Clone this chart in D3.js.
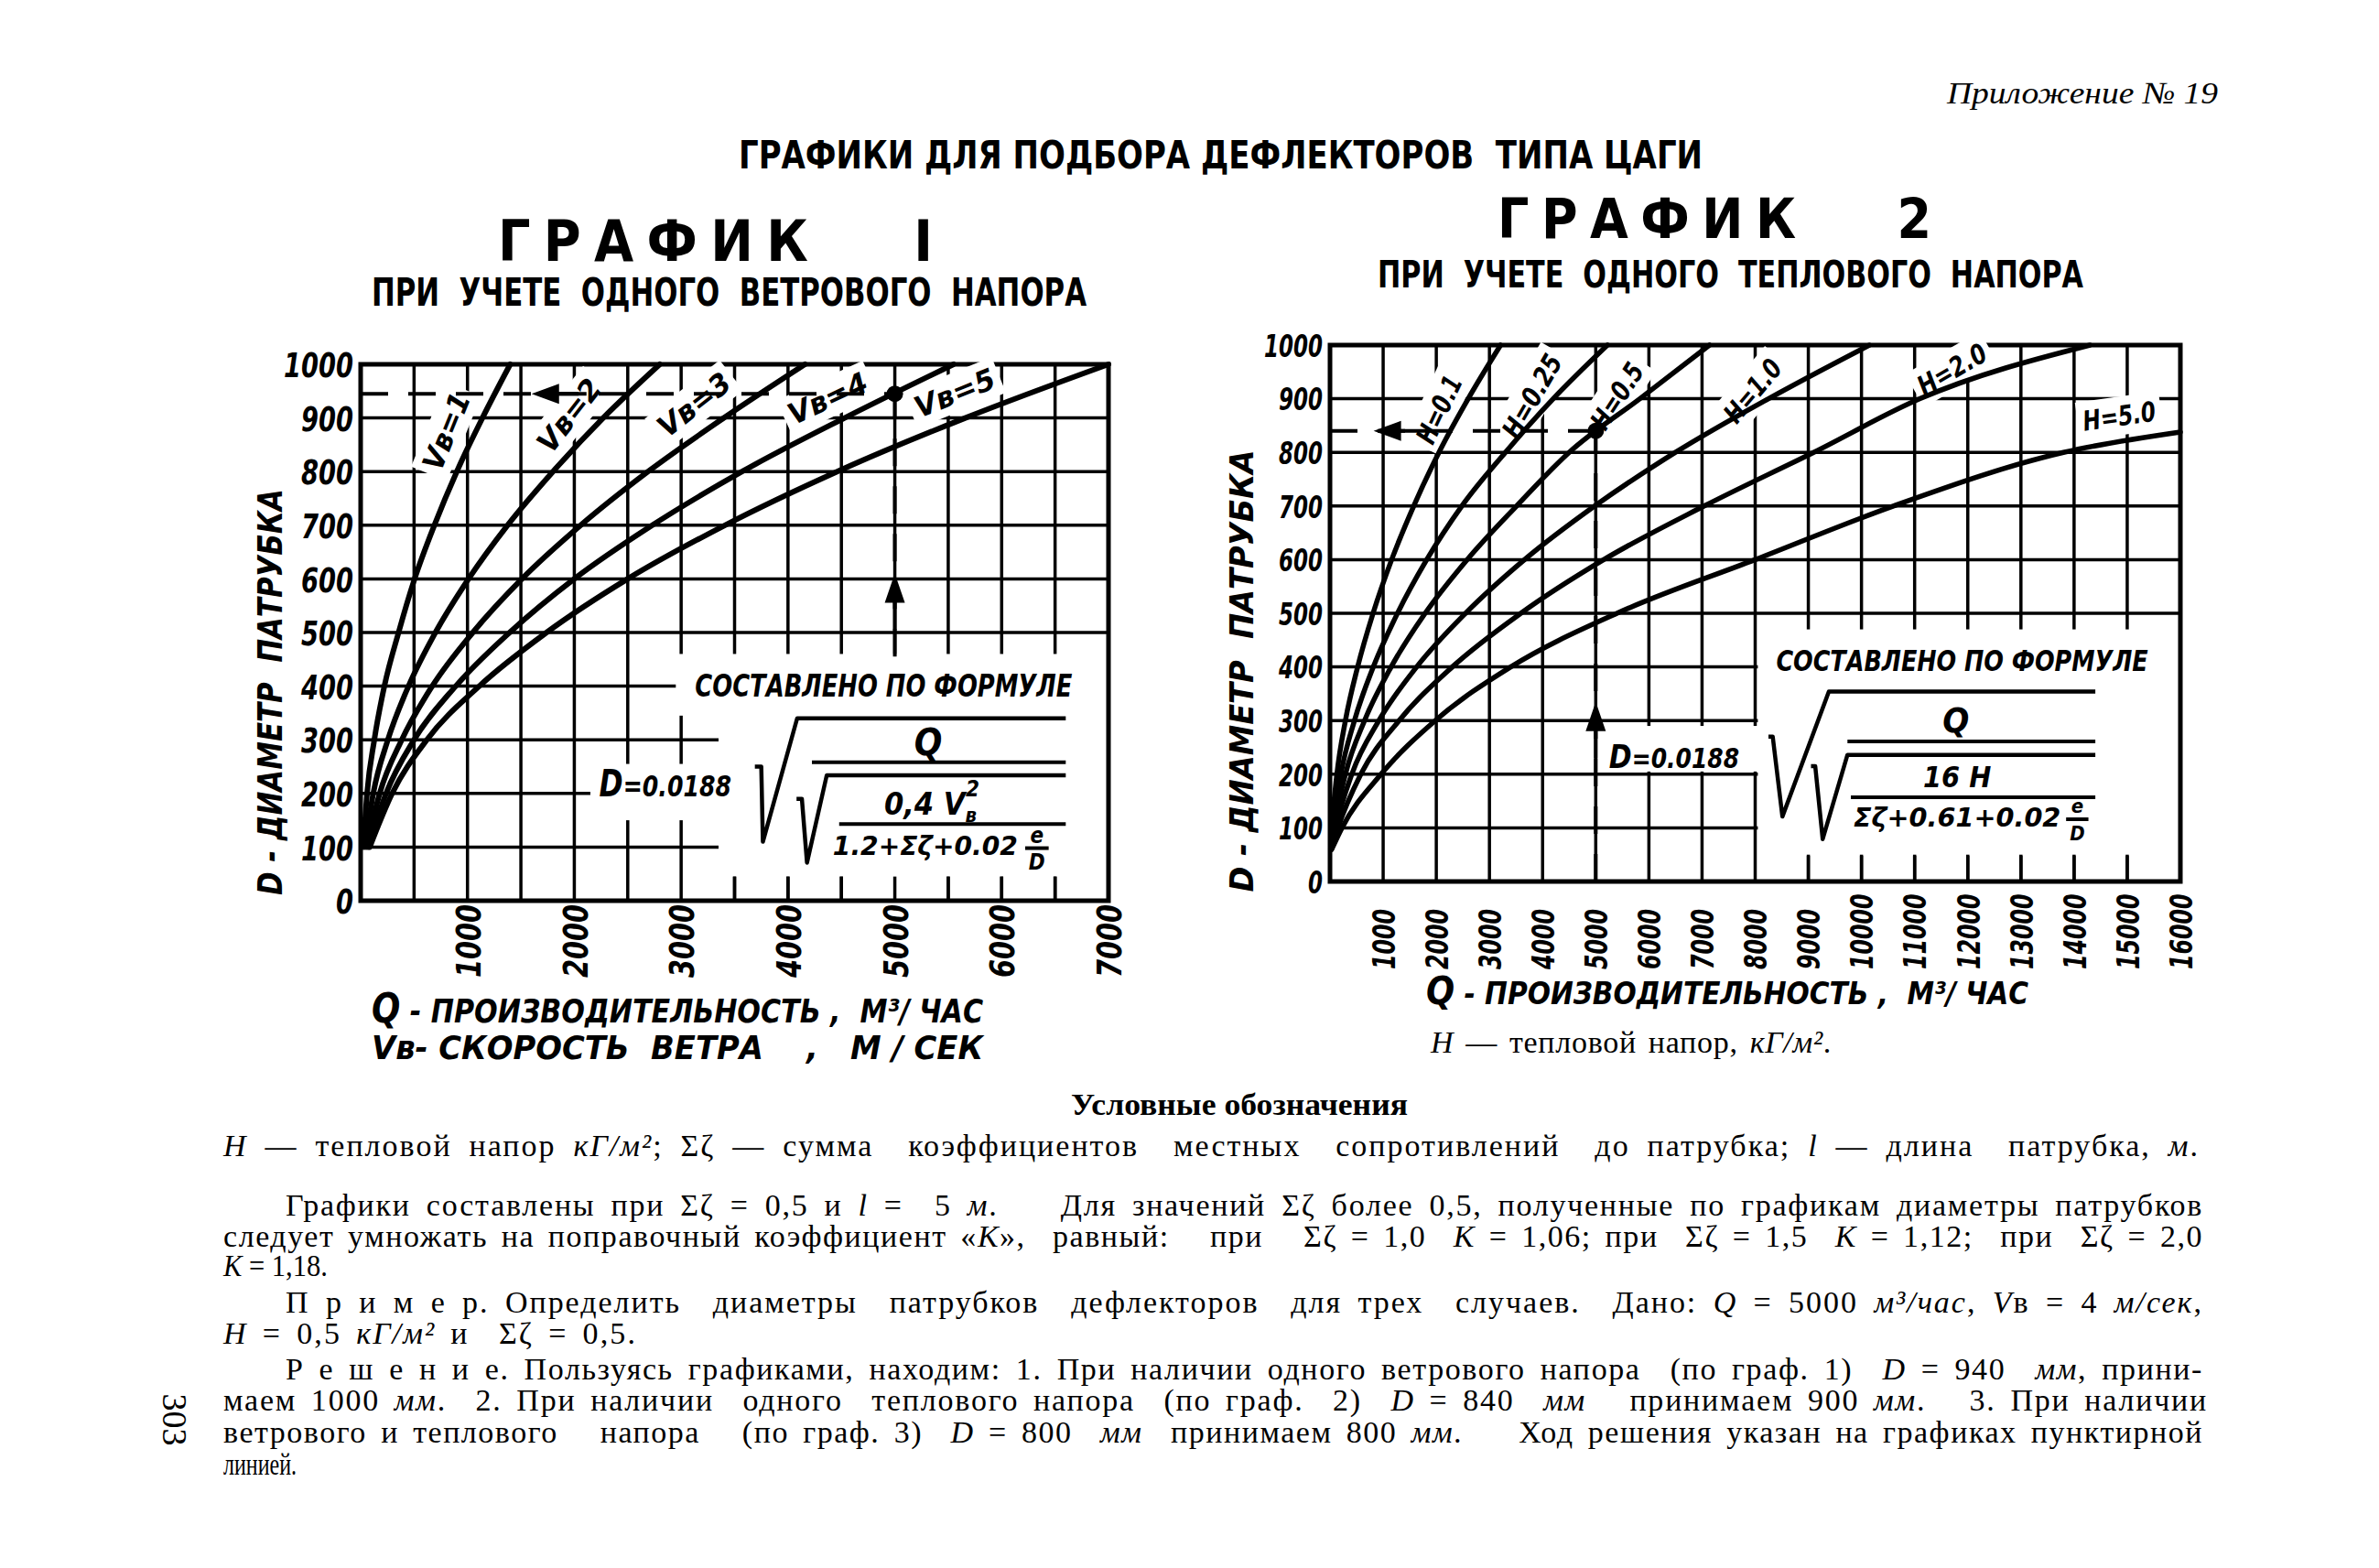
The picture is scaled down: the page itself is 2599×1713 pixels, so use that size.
<!DOCTYPE html>
<html><head><meta charset="utf-8">
<script src="https://cdn.jsdelivr.net/npm/d3@7"></script>
<style>
html,body{margin:0;padding:0;background:#fff;}
svg{display:block;}
text{white-space:pre;}
</style></head><body>
<svg id="page" width="2599" height="1713"></svg>
<script>
// ---------------- DATA ----------------
// График 1 : D levels (mm) and Q (m3/h) where each wind-speed curve reaches them
const dLevels1 = [100,200,300,400,500,600,700,800,900,1000];
const qWind1 = [25,60,128,222,355,505,690,900,1140,1400];
const qWind2 = [40,118,255,448,700,1010,1375,1800,2270,2800];
const qWind3 = [55,178,385,670,1050,1510,2060,2690,3400,4160];
const qWind4 = [70,238,500,890,1395,2000,2730,3570,4530,5550];
const qWind5 = [85,295,620,1110,1740,2500,3410,4460,5660,7000];
const windNames = ["Vв=1","Vв=2","Vв=3","Vв=4","Vв=5"];
const xTicks1 = [1000,2000,3000,4000,5000,6000,7000];
const yTicks1 = [0,100,200,300,400,500,600,700,800,900,1000];

// График 2 : thermal head curves
const dLevels2 = [60,100,200,300,400,500,600,700,800,900,1000];
const qHeat01  = [12,35,130,290,520,810,1160,1575,2050,2600,3210];
const qHeat025 = [15,55,205,460,815,1270,1820,2480,3300,4200,5220];
const qHeat05  = [18,75,290,650,1150,1790,2580,3510,4500,5830,7140];
const qHeat1   = [22,105,410,920,1630,2550,3660,4980,6500,8250,10150];
const qHeat2   = [26,150,580,1300,2300,3590,5150,7040,9100,11100,14300];
const dLevelsH5 = [60,100,200,300,400,500,600,700,800,838];
const qHeat5   = [32,225,960,1980,3400,5400,8000,10600,13800,16000];
const heatNames = ["H=0.1","H=0.25","H=0.5","H=1.0","H=2.0","H=5.0"];
const xTicks2 = [1000,2000,3000,4000,5000,6000,7000,8000,9000,10000,11000,12000,13000,14000,15000,16000];
const yTicks2 = [0,100,200,300,400,500,600,700,800,900,1000];

// worked example
const example1 = {q:5000, d:945};
const example2 = {q:5000, d:840};

// ---------------- SETUP ----------------
const svg = d3.select("#page");
svg.append("rect").attr("width",2599).attr("height",1713).attr("fill","#fff");
const SANS = "'DejaVu Sans Condensed','DejaVu Sans',sans-serif";
const NARROW = "'Liberation Sans Narrow','DejaVu Sans Condensed','DejaVu Sans',sans-serif";
const SERIF = "'Liberation Serif','DejaVu Serif',serif";

function addText(parent, o) {
  const t = parent.append("text")
    .attr("x", o.x).attr("y", o.y)
    .attr("font-family", o.family || SANS)
    .attr("font-size", o.size || 30)
    .attr("font-weight", o.weight || "normal")
    .attr("font-style", o.style || "normal")
    .attr("text-anchor", o.anchor || "start")
    .attr("fill", "#000");
  if (o.rotate) t.attr("transform", `rotate(${o.rotate},${o.x},${o.y})`);
  const segs = Array.isArray(o.text) ? o.text : [[o.text]];
  segs.forEach(s => {
    const ts = t.append("tspan").text(s[0]);
    if (s[1]) ts.attr("font-style", "italic");
    if (s[2]) ts.attr("font-size", s[2]);
    if (s[3]) ts.attr("dy", s[3]);
    if (s[4]) ts.attr("dx", s[4]);
  });
  if (o.len) {
    if (o.justify) {
      const nat = t.node().getComputedTextLength();
      const full = segs.map(s => s[0]).join("");
      const nSp = (full.match(/ /g) || []).length;
      const nCh = full.length;
      if (nat < o.len && nSp > 0) {
        const extra = o.len - nat;
        t.attr("letter-spacing", (extra * 0.55) / nCh);
        t.attr("word-spacing", (extra * 0.45) / nSp);
      } else t.attr("textLength", o.len).attr("lengthAdjust", "spacingAndGlyphs");
    } else {
      t.attr("textLength", o.len).attr("lengthAdjust", o.adjust || "spacingAndGlyphs");
    }
  }
  return t;
}

function drawChart(c) {
  const g = svg.append("g");
  const X = c.x, Y = c.y;
  g.selectAll("line.gv").data(c.xGrid).join("line").attr("class","gv")
    .attr("x1", d => X(d)).attr("x2", d => X(d)).attr("y1", Y(0)).attr("y2", Y(1000))
    .attr("stroke", "#000").attr("stroke-width", c.gridW);
  g.selectAll("line.gh").data(c.yGrid).join("line").attr("class","gh")
    .attr("y1", d => Y(d)).attr("y2", d => Y(d)).attr("x1", X(0)).attr("x2", X(c.qMax))
    .attr("stroke", "#000").attr("stroke-width", c.gridW);
  g.selectAll("rect.box").data(c.boxes).join("rect").attr("class","box")
    .attr("x", d => X(d[0])).attr("width", d => X(d[1]) - X(d[0]))
    .attr("y", d => Y(d[3])).attr("height", d => Y(d[2]) - Y(d[3]))
    .attr("fill", "#fff");
  g.selectAll("line.stub").data(c.stubs).join("line").attr("class","stub")
    .attr("x1", d => X(d)).attr("x2", d => X(d)).attr("y1", Y(0)).attr("y2", Y(c.stubTop))
    .attr("stroke", "#000").attr("stroke-width", c.gridW);
  g.append("rect").attr("x", X(0)).attr("y", Y(1000))
    .attr("width", X(c.qMax) - X(0)).attr("height", Y(0) - Y(1000))
    .attr("fill", "none").attr("stroke", "#000").attr("stroke-width", c.frameW);
  const lg = g.selectAll("g.lab").data(c.labels).join("g").attr("class","lab")
    .attr("transform", d => `translate(${X(d.q)},${Y(d.d)}) rotate(${d.a})`);
  lg.append("rect").attr("x", d => -d.len/2 - 6).attr("y", -21).attr("width", d => d.len + 12).attr("height", 42).attr("fill", "#fff");
  const line = d3.line().x(d => X(d[0])).y(d => Y(d[1])).curve(d3.curveMonotoneX);
  g.selectAll("path.curve").data(c.series).join("path").attr("class","curve")
    .attr("d", s => line(d3.zip(s.q, s.d)))
    .attr("fill", "none").attr("stroke", "#000").attr("stroke-width", c.curveW)
    .attr("stroke-linecap", "round");
  lg.append("text").text(d => d.t).attr("text-anchor", "middle").attr("dy", "0.36em")
    .attr("font-family", SANS).attr("font-weight", "bold").attr("font-style", "italic")
    .attr("font-size", c.labSize).attr("textLength", d => d.len).attr("lengthAdjust", "spacingAndGlyphs");
  const ex = c.example;
  g.append("line").attr("x1", X(0)).attr("x2", X(ex.q)).attr("y1", Y(ex.d)).attr("y2", Y(ex.d))
    .attr("stroke", "#000").attr("stroke-width", 4).attr("stroke-dasharray", "30,22");
  g.append("line").attr("x1", X(ex.q)).attr("x2", X(ex.q)).attr("y1", Y(c.dashFrom)).attr("y2", Y(ex.d))
    .attr("stroke", "#000").attr("stroke-width", 4).attr("stroke-dasharray", "30,22");
  const ax = X(c.arrowLeftQ), ay = Y(ex.d);
  g.append("path").attr("d", `M${ax},${ay} L${ax+30},${ay-11} L${ax+30},${ay+11} Z`).attr("fill", "#000");
  g.append("line").attr("x1", ax+28).attr("x2", ax+60).attr("y1", ay).attr("y2", ay).attr("stroke","#000").attr("stroke-width",4);
  const ux = X(ex.q), uy = Y(c.arrowUpD);
  g.append("path").attr("d", `M${ux},${uy} L${ux-11},${uy+32} L${ux+11},${uy+32} Z`).attr("fill", "#000");
  g.append("line").attr("x1", ux).attr("x2", ux).attr("y1", uy+30).attr("y2", uy+62).attr("stroke","#000").attr("stroke-width",4);
  g.append("circle").attr("cx", X(ex.q)).attr("cy", Y(ex.d)).attr("r", 9).attr("fill", "#000");

  const ya = svg.append("g").attr("transform", `translate(${X(0) - c.yLabGap},0)`)
    .call(d3.axisLeft(Y).tickValues(c.yTicks).tickSize(0).tickPadding(0).tickFormat(d3.format("d")));
  ya.select(".domain").remove();
  ya.selectAll("text").attr("font-family", SANS).attr("font-weight", "bold").attr("font-style", "italic")
    .attr("font-size", c.tickSize).attr("fill", "#000").attr("dy", "0.36em")
    .attr("textLength", d => String(d).length * c.yDigit).attr("lengthAdjust", "spacingAndGlyphs");
  const xa = svg.append("g").attr("transform", `translate(0,${c.xLabBottom})`)
    .call(d3.axisBottom(X).tickValues(c.xTicks).tickSize(0).tickPadding(0).tickFormat(d3.format("d")));
  xa.select(".domain").remove();
  xa.selectAll("text").attr("x", 0).attr("y", 0).attr("dy", "0.36em").attr("transform", "rotate(-90)")
    .attr("text-anchor", "start").attr("font-family", SANS).attr("font-weight", "bold").attr("font-style", "italic")
    .attr("font-size", c.tickSize).attr("fill", "#000")
    .attr("textLength", d => String(d).length * c.xDigit).attr("lengthAdjust", "spacingAndGlyphs");
  return g;
}

// ---------------- CHART 1 ----------------
const x1 = d3.scaleLinear().domain([0, 7000]).range([394, 1211]);
const y1 = d3.scaleLinear().domain([0, 1000]).range([984, 398]);
const wind = [qWind1, qWind2, qWind3, qWind4, qWind5];
const g1 = drawChart({
  x: x1, y: y1, qMax: 7000,
  xGrid: d3.range(500, 7000, 500), yGrid: d3.range(100, 1000, 100),
  boxes: [[3350, 6990, 45, 460], [2950, 3350, 345, 460], [2150, 3350, 150, 255]],
  stubs: d3.range(3500, 7000, 500).filter(q => q !== 5000), stubTop: 45,
  gridW: 3.5, frameW: 5, curveW: 6,
  series: wind.map(q => ({q: q, d: dLevels1})),
  labels: [
    {t: windNames[0], q: 800, d: 875, a: -68, len: 88},
    {t: windNames[1], q: 1950, d: 905, a: -52, len: 92},
    {t: windNames[2], q: 3120, d: 925, a: -38, len: 92},
    {t: windNames[3], q: 4370, d: 937, a: -25, len: 92},
    {t: windNames[4], q: 5560, d: 947, a: -22, len: 92}
  ],
  labSize: 32,
  example: example1, dashFrom: 455, arrowLeftQ: 1600, arrowUpD: 610,
  yTicks: yTicks1, xTicks: xTicks1, tickSize: 38, yDigit: 19, xDigit: 20, yLabGap: 8, xLabBottom: 1068
});

function P(x, y, q, d) { return [x(q), y(d)]; }
function radical(g, x, y, pts) {
  g.append("path").attr("d", "M" + pts.map(p => P(x, y, p[0], p[1]).join(",")).join(" L"))
    .attr("fill", "none").attr("stroke", "#000").attr("stroke-width", 4.5).attr("stroke-linejoin", "round");
}
function bar(g, x, y, q0, q1, d) {
  g.append("line").attr("x1", x(q0)).attr("x2", x(q1)).attr("y1", y(d)).attr("y2", y(d))
    .attr("stroke", "#000").attr("stroke-width", 4);
}
const BI = {family: SANS, weight: "bold", style: "italic"};
addText(g1, {...BI, x: x1(3130), y: y1(380), text: "СОСТАВЛЕНО ПО ФОРМУЛЕ", size: 34, len: x1(6660) - x1(3130)});
addText(g1, {...BI, x: x1(2233), y: y1(195), text: [["D", 0, 40], ["=0.0188"]], size: 32, len: x1(3470) - x1(2233)});
radical(g1, x1, y1, [[3690, 250], [3750, 250], [3765, 110], [4086, 340], [6600, 340]]);
addText(g1, {...BI, x: x1(5312), y: y1(272), text: "Q", size: 40, anchor: "middle"});
bar(g1, x1, y1, 4224, 6600, 258);
radical(g1, x1, y1, [[4080, 190], [4130, 190], [4178, 71], [4363, 234], [6600, 234]]);
addText(g1, {...BI, x: x1(4900), y: y1(160), text: [["0,4 V"], ["в", 0, 22, 8], ["2", 0, 24, -28, -12]], size: 34});
bar(g1, x1, y1, 4479, 6600, 143);
addText(g1, {...BI, x: x1(4420), y: y1(86), text: "1.2+Σζ+0.02", size: 28, len: x1(6150) - x1(4420)});
addText(g1, {...BI, x: x1(6330), y: y1(108), text: "e", size: 24, anchor: "middle"});
bar(g1, x1, y1, 6220, 6440, 98);
addText(g1, {...BI, x: x1(6330), y: y1(58), text: "D", size: 24, anchor: "middle"});

// ---------------- CHART 2 ----------------
const x2 = d3.scaleLinear().domain([0, 16000]).range([1453, 2382]);
const y2 = d3.scaleLinear().domain([0, 1000]).range([963, 377]);
const heat = [qHeat01, qHeat025, qHeat05, qHeat1, qHeat2];
const g2 = drawChart({
  x: x2, y: y2, qMax: 16000,
  xGrid: d3.range(1000, 16000, 1000), yGrid: d3.range(100, 1000, 100),
  boxes: [[8050, 15990, 48, 470], [5150, 8050, 205, 290]],
  stubs: d3.range(9000, 16000, 1000), stubTop: 50,
  gridW: 3.5, frameW: 5, curveW: 5.5,
  series: heat.map(q => ({q: q, d: dLevels2})).concat([{q: qHeat5, d: dLevelsH5}]),
  labels: [
    {t: heatNames[0], q: 2050, d: 880, a: -65, len: 78},
    {t: heatNames[1], q: 3800, d: 905, a: -60, len: 100},
    {t: heatNames[2], q: 5400, d: 905, a: -57, len: 80},
    {t: heatNames[3], q: 7950, d: 915, a: -50, len: 80},
    {t: heatNames[4], q: 11700, d: 955, a: -30, len: 82},
    {t: heatNames[5], q: 14850, d: 868, a: -8, len: 80}
  ],
  labSize: 30,
  example: example2, dashFrom: 0, arrowLeftQ: 820, arrowUpD: 335,
  yTicks: yTicks2, xTicks: xTicks2, tickSize: 34, yDigit: 16, xDigit: 16.5, yLabGap: 8, xLabBottom: 1059
});
addText(g2, {...BI, x: x2(8395), y: y2(392), text: "СОСТАВЛЕНО ПО ФОРМУЛЕ", size: 32, len: x2(15391) - x2(8395)});
addText(g2, {...BI, x: x2(5250), y: y2(212), text: [["D", 0, 36], ["=0.0188"]], size: 30, len: x2(7700) - x2(5250)});
radical(g2, x2, y2, [[8250, 270], [8330, 270], [8512, 121], [9386, 354], [14400, 354]]);
addText(g2, {...BI, x: x2(11777), y: y2(278), text: "Q", size: 38, anchor: "middle"});
bar(g2, x2, y2, 9736, 14400, 261);
radical(g2, x2, y2, [[9050, 215], [9130, 215], [9270, 79], [9736, 236], [14400, 236]]);
addText(g2, {...BI, x: x2(11800), y: y2(176), text: "16 H", size: 32, anchor: "middle"});
bar(g2, x2, y2, 9800, 14400, 157);
addText(g2, {...BI, x: x2(9850), y: y2(102), text: "Σζ+0.61+0.02", size: 28, len: x2(13750) - x2(9850)});
addText(g2, {...BI, x: x2(14060), y: y2(128), text: "e", size: 22, anchor: "middle"});
bar(g2, x2, y2, 13850, 14270, 116);
addText(g2, {...BI, x: x2(14060), y: y2(76), text: "D", size: 22, anchor: "middle"});

// ---------------- PAGE TEXTS ----------------
addText(svg, {x: 2423, y: 113, text: "Приложение № 19", size: 34, family: SERIF, style: "italic", anchor: "end", len: 296});
addText(svg, {x: 807, y: 184, text: "ГРАФИКИ ДЛЯ ПОДБОРА ДЕФЛЕКТОРОВ  ТИПА ЦАГИ", size: 42, family: NARROW, weight: "bold", len: 1053});
addText(svg, {x: 544, y: 285, text: "ГРАФИК   I", size: 62, family: NARROW, weight: "bold", len: 475, adjust: "spacing"});
addText(svg, {x: 406, y: 334, text: "ПРИ  УЧЕТЕ  ОДНОГО  ВЕТРОВОГО  НАПОРА", size: 42, family: NARROW, weight: "bold", len: 781});
addText(svg, {x: 1636, y: 260, text: "ГРАФИК   2", size: 60, family: NARROW, weight: "bold", len: 474, adjust: "spacing"});
addText(svg, {x: 1505, y: 314, text: "ПРИ  УЧЕТЕ  ОДНОГО  ТЕПЛОВОГО  НАПОРА", size: 40, family: NARROW, weight: "bold", len: 771});

addText(svg, {...BI, x: 308, y: 756, text: "D - ДИАМЕТР  ПАТРУБКА", size: 38, anchor: "middle", rotate: -90, len: 444});
addText(svg, {...BI, x: 1369, y: 733, text: "D - ДИАМЕТР  ПАТРУБКА", size: 36, anchor: "middle", rotate: -90, len: 483});

addText(svg, {...BI, x: 406, y: 1117, text: [["Q", 0, 44], [" - ПРОИЗВОДИТЕЛЬНОСТЬ ,  М³/ ЧАС"]], size: 36, len: 668});
addText(svg, {...BI, x: 406, y: 1157, text: "Vв- СКОРОСТЬ  ВЕТРА    ,   М / СЕК", size: 36, len: 668});
addText(svg, {...BI, x: 1558, y: 1097, text: [["Q", 0, 42], [" - ПРОИЗВОДИТЕЛЬНОСТЬ ,  М³/ ЧАС"]], size: 34, len: 658});
addText(svg, {x: 1563, y: 1150, family: SERIF, size: 34, text: [["H", 1], [" — тепловой напор, "], ["кГ/м²", 1], ["."]], len: 438, justify: true});

addText(svg, {x: 1170, y: 1218, family: SERIF, weight: "bold", size: 34, text: "Условные обозначения", len: 368});
const S = {family: SERIF, size: 34, justify: true};
addText(svg, {...S, x: 244, y: 1263, len: 2159, text: [["H", 1], [" — тепловой напор "], ["кГ/м²", 1], ["; Σζ — сумма  коэффициентов  местных  сопротивлений  до патрубка; "], ["l", 1], [" — длина  патрубка, "], ["м", 1], ["."]]});
addText(svg, {...S, x: 312, y: 1328, len: 2095, text: [["Графики составлены при Σζ = 0,5 и "], ["l", 1], [" =  5 "], ["м", 1], [".    Для значений Σζ более 0,5, полученные по графикам диаметры патрубков"]]});
addText(svg, {...S, x: 244, y: 1362, len: 2163, text: [["следует умножать на поправочный коэффициент «"], ["К", 1], ["»,  равный:   при   Σζ = 1,0  "], ["К", 1], [" = 1,06; при  Σζ = 1,5  "], ["К", 1], [" = 1,12;  при  Σζ = 2,0"]]});
addText(svg, {family: SERIF, size: 34, x: 244, y: 1394, len: 114, text: [["К", 1], [" = 1,18."]]});
addText(svg, {...S, x: 312, y: 1434, len: 2095, text: [["П р и м е р. Определить  диаметры  патрубков  дефлекторов  для трех  случаев.  Дано: "], ["Q", 1], [" = 5000 "], ["м³/час", 1], [", "], ["V", 1], ["в"], [" = 4 "], ["м/сек", 1], [","]]});
addText(svg, {...S, x: 244, y: 1468, len: 452, text: [["H", 1], [" = 0,5 "], ["кГ/м²", 1], [" и  Σζ = 0,5."]]});
addText(svg, {...S, x: 312, y: 1507, len: 2095, text: [["Р е ш е н и е. Пользуясь графиками, находим: 1. При наличии одного ветрового напора  (по граф. 1)  "], ["D", 1], [" = 940  "], ["мм", 1], [", прини-"]]});
addText(svg, {...S, x: 244, y: 1541, len: 2168, text: [["маем 1000 "], ["мм", 1], [".  2. При наличии  одного  теплового напора  (по граф.  2)  "], ["D", 1], [" = 840  "], ["мм", 1], ["   принимаем 900 "], ["мм", 1], [".   3. При наличии"]]});
addText(svg, {...S, x: 244, y: 1576, len: 2163, text: [["ветрового и теплового   напора   (по граф. 3)  "], ["D", 1], [" = 800  "], ["мм", 1], ["  принимаем 800 "], ["мм", 1], [".    Ход решения указан на графиках пунктирной"]]});
addText(svg, {family: SERIF, size: 34, x: 244, y: 1611, len: 80, text: "линией."});
addText(svg, {x: 178, y: 1551, family: SERIF, size: 38, text: "303", anchor: "middle", rotate: 90});
</script>
</body></html>
